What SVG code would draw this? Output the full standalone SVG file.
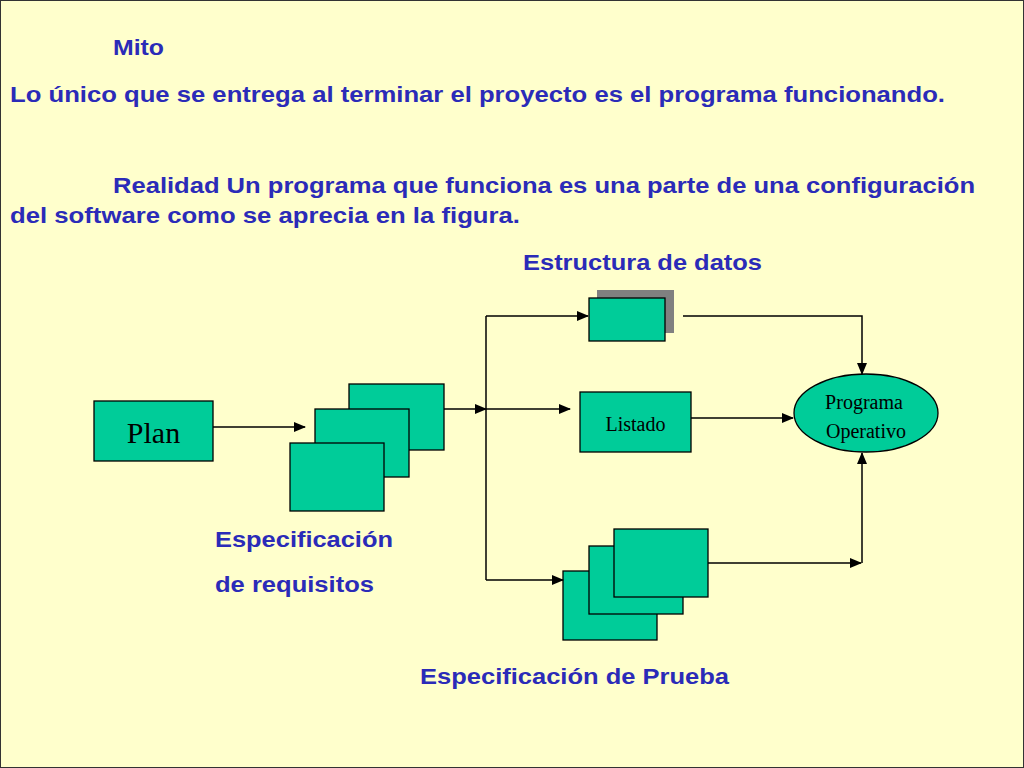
<svg xmlns="http://www.w3.org/2000/svg" width="1024" height="768" viewBox="0 0 1024 768">
<style>
.t{font-family:"Liberation Sans",Arial,sans-serif;font-weight:bold;font-size:22px;fill:#2B2BB8}
.s{font-family:"Liberation Serif","Times New Roman",serif;fill:#000}
.b{fill:#00CC99;stroke:#000;stroke-width:1.3}
.c{fill:none;stroke:#000;stroke-width:1.5}
</style>
<defs><marker id="a" markerWidth="12" markerHeight="10" refX="11" refY="5" orient="auto" markerUnits="userSpaceOnUse"><path d="M0,0L12,5L0,10z" fill="#000"/></marker></defs>
<rect x="0" y="0" width="1024" height="768" fill="#FFFFCC" stroke="#333" stroke-width="2"/>
<text class="t" x="113" y="55" textLength="51" lengthAdjust="spacingAndGlyphs">Mito</text>
<text class="t" x="10" y="102" textLength="935" lengthAdjust="spacingAndGlyphs">Lo único que se entrega al terminar el proyecto es el  programa funcionando.</text>
<text class="t" x="113" y="193" textLength="862" lengthAdjust="spacingAndGlyphs">Realidad Un programa que funciona es una parte de una configuración</text>
<text class="t" x="10" y="223" textLength="510" lengthAdjust="spacingAndGlyphs">del software como se aprecia en la figura.</text>
<text class="t" x="523" y="270" textLength="239" lengthAdjust="spacingAndGlyphs">Estructura de datos</text>
<text class="t" x="215" y="547" textLength="178" lengthAdjust="spacingAndGlyphs">Especificación</text>
<text class="t" x="215" y="592" textLength="159" lengthAdjust="spacingAndGlyphs">de requisitos</text>
<text class="t" x="420" y="684" textLength="309" lengthAdjust="spacingAndGlyphs">Especificación de Prueba</text>
<g id="plan"><rect class="b" x="94" y="401" width="119" height="60"/><text class="s" x="153.5" y="443" font-size="30" text-anchor="middle">Plan</text></g>
<g id="req"><rect class="b" x="349" y="384" width="95" height="66"/><rect class="b" x="315" y="409" width="94" height="68"/><rect class="b" x="290" y="443" width="94" height="68"/></g>
<g id="datos"><rect x="597" y="290" width="77" height="43" fill="#808080"/><rect class="b" x="589" y="298" width="76" height="43"/></g>
<g id="listado"><rect class="b" x="580" y="392" width="111" height="60"/><text class="s" x="635.5" y="431" font-size="20" text-anchor="middle">Listado</text></g>
<g id="prog"><ellipse class="b" cx="866" cy="413" rx="72" ry="39"/><text class="s" x="864" y="409" font-size="20" text-anchor="middle">Programa</text><text class="s" x="866" y="438" font-size="20" text-anchor="middle">Operativo</text></g>
<g id="prueba"><rect class="b" x="563" y="571" width="94" height="69"/><rect class="b" x="589" y="546" width="94" height="68"/><rect class="b" x="614" y="529" width="94" height="68"/></g>
<g id="connectors">
<path class="c" d="M213,427H305" marker-end="url(#a)"/>
<path class="c" d="M444,409H486" marker-end="url(#a)"/>
<path class="c" d="M486,316V580"/>
<path class="c" d="M486,316H588" marker-end="url(#a)"/>
<path class="c" d="M486,409H570" marker-end="url(#a)"/>
<path class="c" d="M486,580H563" marker-end="url(#a)"/>
<path class="c" d="M691,418H793" marker-end="url(#a)"/>
<path class="c" d="M683,316H862V374" marker-end="url(#a)"/>
<path class="c" d="M708,563H861" marker-end="url(#a)"/>
<path class="c" d="M862,563V453" marker-end="url(#a)"/>
</g>
</svg>
